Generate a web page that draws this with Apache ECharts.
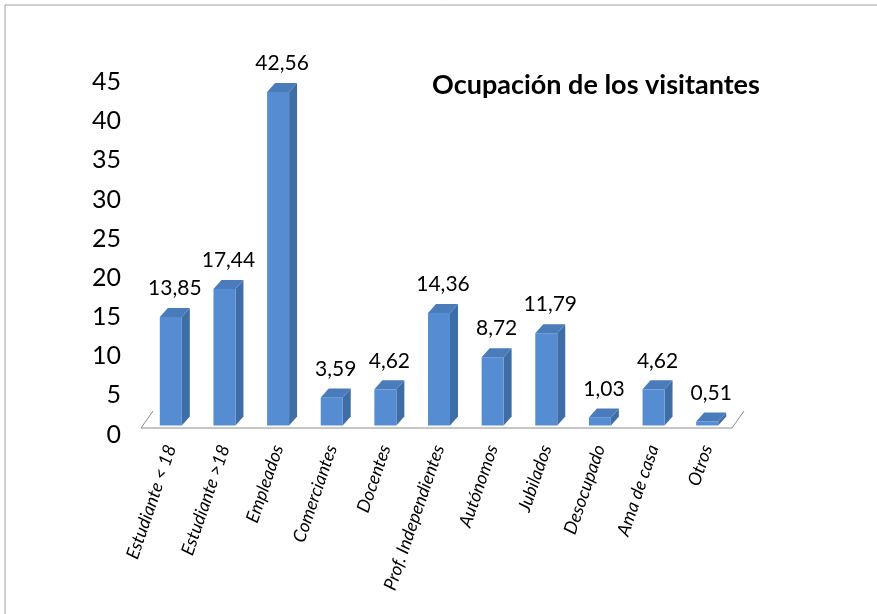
<!DOCTYPE html>
<html>
<head>
<meta charset="utf-8">
<script src="https://cdn.jsdelivr.net/npm/echarts@6/dist/echarts.min.js"></script>
<style>
  html, body { margin: 0; padding: 0; background: #fff; }
  #main { width: 877px; height: 614px; }
</style>
</head>
<body>
<div id="main"></div>
<script>
const categories = [
  'Estudiante < 18', 'Estudiante >18', 'Empleados', 'Comerciantes', 'Docentes',
  'Prof. Independientes', 'Autónomos', 'Jubilados', 'Desocupado', 'Ama de casa', 'Otros'
]
const values = [13.85, 17.44, 42.56, 3.59, 4.62, 14.36, 8.72, 11.79, 1.03, 4.62, 0.51]
const yMin = 0
const yMax = 45
const yStep = 5

const FONT = 'Lato, "Open Sans", sans-serif'
const DX = 8
const DY = -9

const fmt = (v) => v.toFixed(2).replace('.', ',')

const chart = echarts.init(document.getElementById('main'))

function renderBar(params, api) {
  const idx = api.value(0)
  const v = api.value(1)
  const base = api.coord([idx, 0])
  const top = api.coord([idx, v])
  const bw = api.size([1, 0])[0] * 0.41
  const x0 = top[0] - bw / 2
  const x1 = top[0] + bw / 2
  const ty = top[1]
  const by = base[1]
  return {
    type: 'group',
    children: [
      {
        type: 'polygon',
        shape: { points: [[x1, ty], [x1 + DX, ty + DY], [x1 + DX, by + DY], [x1, by]] },
        style: { fill: '#3F6EA6' },
      },
      {
        type: 'rect',
        shape: { x: x0, y: ty, width: bw, height: by - ty },
        style: { fill: '#568CD2' },
      },
      {
        type: 'polygon',
        shape: { points: [[x0, ty], [x1, ty], [x1 + DX, ty + DY], [x0 + DX, ty + DY]] },
        style: { fill: '#4A7BBB' },
      },
      {
        type: 'text',
        style: {
          text: fmt(v),
          x: top[0] + DX / 2,
          y: ty + DY - 9,
          align: 'center',
          verticalAlign: 'bottom',
          font: '21px ' + FONT,
          fill: '#000',
        },
      },
    ],
  }
}

function renderFloor(params, api) {
  const cs = params.coordSys
  const by = api.coord([0, 0])[1] + 2.5
  const lx = cs.x - 3
  const rx = cs.x + cs.width - 2
  return {
    type: 'polyline',
    shape: {
      points: [[lx + 12, by - 17], [lx, by], [rx, by], [rx + 12, by - 17]],
    },
    style: { stroke: '#8C8C8C', lineWidth: 1, fill: null },
  }
}

chart.setOption({
  backgroundColor: '#fff',
  animation: false,
  title: {
    text: 'Ocupación de los visitantes',
    left: 427,
    top: 67,
    textStyle: { fontFamily: FONT, fontWeight: 'bold', fontSize: 27, color: '#000' },
  },
  graphic: [
    {
      type: 'rect',
      shape: { x: 5, y: 5, width: 1000, height: 1000 },
      style: { fill: null, stroke: '#A0A0A0', lineWidth: 1 },
      silent: true,
    },
  ],
  grid: {
    left: 144,
    right: 143,
    top: 73,
    bottom: 188.5,
  },
  xAxis: {
    type: 'category',
    data: categories,
    axisLine: { show: false },
    axisTick: { show: false },
    axisLabel: {
      interval: 0,
      rotate: 71,
      margin: 20,
      fontFamily: FONT,
      fontStyle: 'italic',
      fontSize: 18,
      color: '#000',
    },
  },
  yAxis: {
    type: 'value',
    min: yMin,
    max: yMax,
    interval: yStep,
    axisLine: { show: false },
    axisTick: { show: false },
    splitLine: { show: false },
    axisLabel: {
      margin: 23,
      verticalAlign: 'top',
      lineHeight: 18,
      fontFamily: FONT,
      fontSize: 25,
      color: '#000',
    },
  },
  series: [
    {
      type: 'custom',
      renderItem: renderFloor,
      data: [[0, 0]],
      z: 1,
      silent: true,
    },
    {
      type: 'custom',
      renderItem: renderBar,
      data: values.map((v, i) => [i, v]),
      encode: { x: 0, y: 1 },
      z: 2,
    },
  ],
})
</script>
</body>
</html>
